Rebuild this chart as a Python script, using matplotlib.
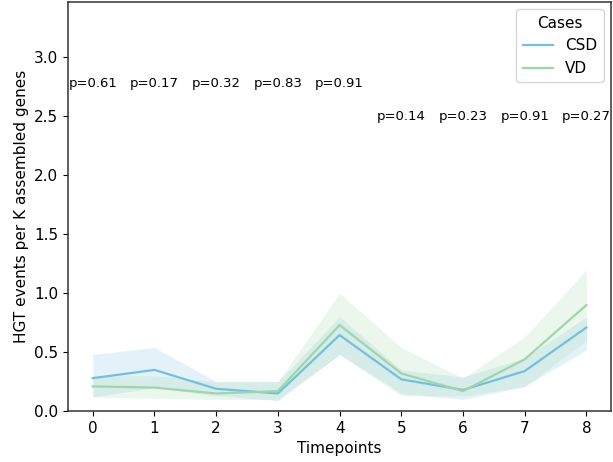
import matplotlib
matplotlib.use("Agg")
import matplotlib.pyplot as plt
import numpy as np

timepoints = [0, 1, 2, 3, 4, 5, 6, 7, 8]

# mean HGT events per K assembled genes
csd_mean = [0.28, 0.35, 0.19, 0.15, 0.645, 0.27, 0.18, 0.34, 0.71]
csd_low = [0.12, 0.20, 0.13, 0.09, 0.48, 0.15, 0.10, 0.21, 0.52]
csd_high = [0.48, 0.54, 0.25, 0.25, 0.80, 0.35, 0.29, 0.45, 0.80]

vd_mean = [0.21, 0.20, 0.15, 0.17, 0.73, 0.32, 0.17, 0.44, 0.90]
vd_low = [0.12, 0.11, 0.10, 0.10, 0.48, 0.13, 0.13, 0.21, 0.60]
vd_high = [0.30, 0.30, 0.25, 0.25, 1.00, 0.54, 0.28, 0.63, 1.20]

p_values = ["p=0.61", "p=0.17", "p=0.32", "p=0.83", "p=0.91",
            "p=0.14", "p=0.23", "p=0.91", "p=0.27"]
p_heights = [2.78, 2.78, 2.78, 2.78, 2.78, 2.50, 2.50, 2.50, 2.50]

csd_color = "#74c0dc"
vd_color = "#9fd6a9"

plt.rcParams["font.size"] = 11
plt.rcParams["axes.edgecolor"] = "#333333"
plt.rcParams["axes.linewidth"] = 1.1

fig = plt.figure(figsize=(6.13, 4.62), dpi=100)
ax = fig.add_axes([0.111, 0.11, 0.886, 0.886])

ax.fill_between(timepoints, csd_low, csd_high, color=csd_color, alpha=0.2, linewidth=0)
ax.fill_between(timepoints, vd_low, vd_high, color=vd_color, alpha=0.2, linewidth=0)
ax.plot(timepoints, csd_mean, color=csd_color, lw=1.6, label="CSD")
ax.plot(timepoints, vd_mean, color=vd_color, lw=1.6, label="VD")

for t, txt, h in zip(timepoints, p_values, p_heights):
    ax.text(t, h, txt, ha="center", va="center", fontsize=9.5)

ax.set_xlim(-0.4, 8.4)
ax.set_ylim(0, 3.47)
ax.set_xticks(timepoints)
ax.set_yticks(np.arange(0, 3.01, 0.5))
ax.set_xlabel("Timepoints")
ax.set_ylabel("HGT events per K assembled genes")
ax.legend(title="Cases", loc="upper right", borderaxespad=0.5)

fig.savefig("out.png", dpi=100)
